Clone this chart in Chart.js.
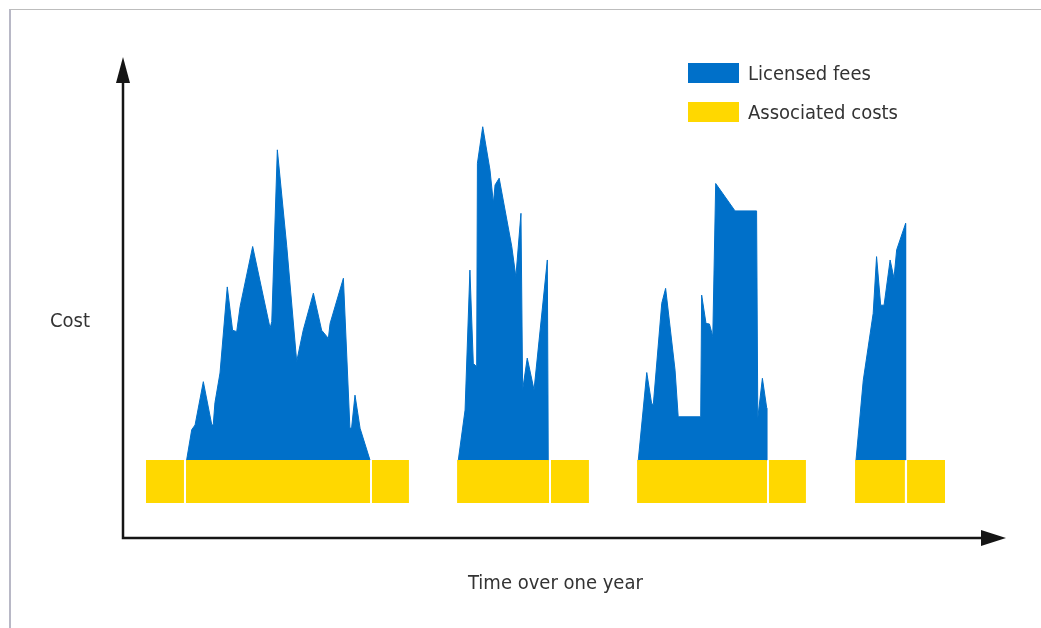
<!DOCTYPE html>
<html>
<head>
<meta charset="utf-8">
<script src="https://cdn.jsdelivr.net/npm/chart.js@4/dist/chart.umd.min.js"></script>
<style>
body{margin:0;background:#fff;font-family:"Liberation Sans Narrow","DejaVu Sans Condensed",sans-serif;color:#333;}
#wrap{position:relative;width:1041px;height:628px;overflow:hidden;}
#frame{position:absolute;left:9px;top:9px;width:1100px;height:700px;border-left:2px solid #b8b8c6;border-top:1px solid #bdbdbd;}
canvas{position:absolute;left:0;top:0;}
.lbl{position:absolute;font-size:20px;white-space:nowrap;line-height:1;}
#legend{position:absolute;left:688px;top:63px;}
.item{display:flex;align-items:center;height:20px;margin-bottom:19px;font-size:20px;}
.box{width:51px;height:20px;margin-right:9px;}
</style>
</head>
<body>
<div id="wrap">
<div id="frame"></div>
<canvas id="costChart" width="1041" height="628"></canvas>
<div class="lbl" style="left:50px;top:310px;">Cost</div>
<div class="lbl" style="left:468px;top:572px;">Time over one year</div>
<div id="legend"></div>
</div>
<script>
// Licensed fees (blue areas), day of year vs cost, null = break between projects
const feeDays=[
26.3,28.4,29.8,33.2,36.7,37.3,38.0,40.1,43.1,45.3,47.0,48.4,53.6,60.8,61.5,63.8,67.7,71.8,74.5,78.7,82.1,84.9,85.6,91.1,93.8,94.5,95.9,98.0,102.1,
120,
138.6,141.4,143.4,144.8,146.2,146.5,148.7,151.7,153.1,153.8,155.5,160.7,162.4,164.5,165.2,167.1,169.9,175.4,175.8,
195,
213.0,216.5,218.5,219.2,222.7,224.3,228.2,229.5,238.8,239.2,241.0,242.4,243.8,245.0,253.0,261.9,262.4,264.3,266.1,266.1,
290,
303.0,306.0,310.1,311.5,313.2,314.6,317.1,318.7,319.8,323.5,323.5
];
const feeCost=[
16.2,22.5,23.5,32.5,23.5,23.5,28.1,34.3,52.2,43.2,42.9,48.1,60.6,43.6,45.0,80.7,60.6,36.7,43.2,50.9,43.2,41.5,44.6,54.0,22.8,22.9,29.7,22.8,16.2,
null,
16.2,26.6,55.7,36.3,35.6,77.9,85.5,76.5,69.6,73.4,74.8,60.6,54.3,67.5,30.8,37.4,30.8,57.8,16.2,
null,
16.2,34.4,28.0,27.7,48.8,51.9,34.9,25.2,25.2,50.5,44.6,44.5,41.9,73.7,68.0,68.0,24.9,33.2,27.0,16.2,
null,
16.2,32.8,46.7,58.5,48.4,48.4,57.8,54.0,59.9,65.4,16.2
];

// Associated costs (yellow blocks)
const costStart=[9.5,26.0,102.9,138.1,176.9,212.5,267.0,302.6,324.1];
const costEnd=[25.2,102.1,118.2,176.1,192.6,266.2,282.3,323.2,339.8];
const costLow=7.3;
const costHigh=16.2;

const blue="#0070c9";
const yellow="#ffd800";

const feePoints=feeDays.map((d,i)=>({x:d,y:feeCost[i]}));
const costPoints=[];
costStart.forEach((s,i)=>{
costPoints.push({x:s,y:costHigh});
costPoints.push({x:costEnd[i],y:costHigh});
costPoints.push({x:costEnd[i],y:null});
});

const axes={
id:"axes",
afterDatasetsDraw(chart){
const c=chart.ctx;
const x0=chart.scales.x.getPixelForValue(0);
const y0=chart.scales.y.getPixelForValue(0);
const top=chart.chartArea.top;
const right=chart.chartArea.right;
c.save();
c.strokeStyle="#151515";
c.fillStyle="#151515";
c.lineWidth=2.5;
c.beginPath();
c.moveTo(x0,top+24);
c.lineTo(x0,y0);
c.lineTo(right-24,y0);
c.stroke();
c.beginPath();
c.moveTo(x0,top);
c.lineTo(x0-7,top+26);
c.lineTo(x0+7,top+26);
c.closePath();
c.fill();
c.beginPath();
c.moveTo(right,y0);
c.lineTo(right-25,y0-8);
c.lineTo(right-25,y0+8);
c.closePath();
c.fill();
c.restore();
}
};

const chart=new Chart(document.getElementById("costChart"),{
type:"line",
data:{
datasets:[{
label:"Licensed fees",
data:feePoints,
borderColor:blue,
backgroundColor:blue,
borderWidth:1,
pointRadius:0,
tension:0,
spanGaps:false,
fill:{value:costHigh}
},{
label:"Associated costs",
data:costPoints,
borderColor:yellow,
backgroundColor:yellow,
borderWidth:0,
pointRadius:0,
tension:0,
spanGaps:false,
fill:{value:costLow}
}]
},
options:{
responsive:false,
animation:false,
layout:{padding:{left:123,right:35,top:57,bottom:90}},
plugins:{legend:{display:false},tooltip:{enabled:false}},
scales:{
x:{type:"linear",min:0,max:365,display:false},
y:{min:0,max:100,display:false}
}
},
plugins:[axes]
});

const legend=document.getElementById("legend");
chart.data.datasets.forEach(ds=>{
const row=document.createElement("div");
row.className="item";
row.innerHTML='<span class="box" style="background:'+ds.backgroundColor+'"></span><span>'+ds.label+'</span>';
legend.appendChild(row);
});
</script>
</body>
</html>
